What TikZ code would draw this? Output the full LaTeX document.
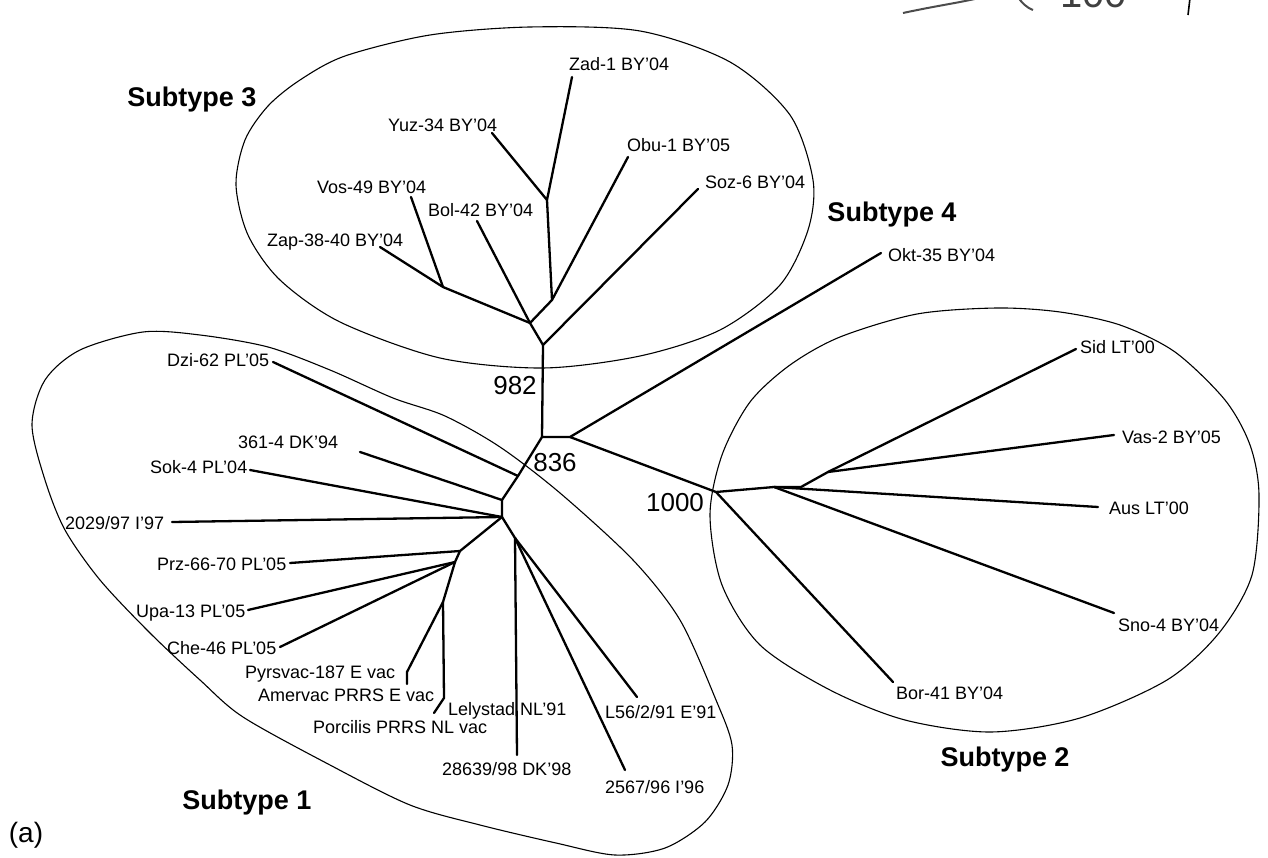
\documentclass[tikz,border=0pt]{standalone}
\usepackage{fontspec}
\setmainfont{Liberation Sans}
\begin{document}
\begin{tikzpicture}[x=1pt,y=-1pt,
  br/.style={line width=2.3pt, line cap=round, line join=round},
  hull/.style={line width=1.1pt},
  lbl/.style={anchor=west, inner sep=0pt, font=\fontsize{18}{20}\selectfont},
  subl/.style={inner sep=0pt, font=\fontsize{27}{30}\selectfont\bfseries},
  boot/.style={inner sep=0pt, font=\fontsize{26}{28}\selectfont},
  frag/.style={line width=2pt, black!70}]
\useasboundingbox (0,0) rectangle (1268,858);

% ---------- hulls ----------
\draw[hull] plot[smooth cycle] coordinates {(236,185) (245,140) (268,106) (300,80) (345,56) (430,35) (530,27) (640,31) (730,62) (790,115) (813,180) (808,230) (780,285) (720,330) (640,356) (543,368) (440,358) (340,322) (280,280) (248,235)};
\draw[hull] plot[smooth cycle] coordinates {(32,425) (45,380) (80,350) (143,332) (200,335) (268,347) (330,370) (393,398) (445,416) (500,447) (560,493) (633,560) (680,620) (716,700) (732,745) (728,785) (705,822) (665,848) (615,855) (556,843) (480,825) (410,805) (330,765) (243,717) (200,680) (150,633) (100,580) (65,530) (45,480)};
\draw[hull] plot[smooth cycle] coordinates {(710,515) (722,455) (750,402) (790,365) (840,337) (917,314) (997,308) (1060,312) (1120,325) (1175,352) (1225,400) (1250,445) (1259,495) (1252,575) (1219,633) (1167,680) (1080,718) (991,732) (905,720) (830,690) (760,645) (722,585)};

% ---------- coordinates ----------
\coordinate (J1) at (547,200);
\coordinate (Zad) at (572,77);
\coordinate (Yuz) at (492,133);
\coordinate (J2) at (552,300);
\coordinate (Obu) at (628,157);
\coordinate (J3) at (530,323);
\coordinate (Jzv) at (443,287);
\coordinate (Zap) at (380,247);
\coordinate (Vos) at (411,197);
\coordinate (Bol) at (477,221);
\coordinate (J4) at (543,345);
\coordinate (Soz) at (698,189);
\coordinate (Jr) at (542,437);
\coordinate (J5) at (570,437);
\coordinate (Okt) at (881,253);
\coordinate (N1000) at (716,492);
\coordinate (N2) at (774,487);
\coordinate (N3) at (801,487);
\coordinate (Jsv) at (828,472);
\coordinate (Sid) at (1076,349);
\coordinate (Vas) at (1114,435);
\coordinate (Aus) at (1098,507);
\coordinate (Sno) at (1114,613);
\coordinate (Bor) at (893,682);
\coordinate (Jd) at (518,476);
\coordinate (Dzi) at (273,362);
\coordinate (J361) at (502,500);
\coordinate (T361) at (360,452);
\coordinate (Jc) at (502,517);
\coordinate (Sok) at (250,470);
\coordinate (T2029) at (172,522);
\coordinate (Jprz) at (460,551);
\coordinate (Prz) at (290,563);
\coordinate (Jup) at (455,562);
\coordinate (Upa) at (248,610);
\coordinate (Che) at (280,647);
\coordinate (Jvac) at (443,602);
\coordinate (Jpyr) at (407,672);
\coordinate (Pyr) at (407,684);
\coordinate (Jlp) at (444,698);
\coordinate (Por) at (434,713);
\coordinate (J7) at (515,538);
\coordinate (T28639) at (517,755);
\coordinate (L56) at (637,697);
\coordinate (T2567) at (625,770);

% ---------- branches ----------
\draw[br] (Zad) -- (J1) -- (Yuz);
\draw[br] (J1) -- (J2) -- (Obu);
\draw[br] (J2) -- (J3) -- (Bol);
\draw[br] (J3) -- (Jzv) -- (Zap);
\draw[br] (Jzv) -- (Vos);
\draw[br] (J3) -- (J4) -- (Soz);
\draw[br] (J4) -- (Jr) -- (J5) -- (Okt);
\draw[br] (J5) -- (N1000) -- (Bor);
\draw[br] (N1000) -- (N2) -- (Sno);
\draw[br] (N2) -- (Aus);
\draw[br] (N2) -- (N3) -- (Jsv) -- (Sid);
\draw[br] (Jsv) -- (Vas);
\draw[br] (Jr) -- (Jd) -- (Dzi);
\draw[br] (Jd) -- (J361) -- (T361);
\draw[br] (J361) -- (Jc) -- (Sok);
\draw[br] (Jc) -- (T2029);
\draw[br] (Jc) -- (Jprz) -- (Prz);
\draw[br] (Jprz) -- (Jup) -- (Upa);
\draw[br] (Jup) -- (Che);
\draw[br] (Jup) -- (Jvac) -- (Jpyr) -- (Pyr);
\draw[br] (Jvac) -- (Jlp) -- (Por);
\draw[br] (Jc) -- (J7) -- (T28639);
\draw[br] (J7) -- (L56);
\draw[br] (J7) -- (T2567);

% ---------- leaf labels ----------
\node[lbl] (lZad) at (569,64) {Zad-1 BY'04};
\node[lbl] (lYuz) at (388,125) {Yuz-34 BY'04};
\node[lbl] (lObu) at (627,145) {Obu-1 BY'05};
\node[lbl] (lSoz) at (705,182) {Soz-6 BY'04};
\node[lbl] (lVos) at (317,187) {Vos-49 BY'04};
\node[lbl] (lBol) at (428,210) {Bol-42 BY'04};
\node[lbl] (lZap) at (267,242) {Zap-38-40 BY'04};
\node[lbl] (lOkt) at (888,255) {Okt-35 BY'04};
\node[lbl] (lDzi) at (167,360) {Dzi-62 PL'05};
\node[lbl] (l361) at (238,442) {361-4 DK'94};
\node[lbl] (lSok) at (150,467) {Sok-4 PL'04};
\node[lbl] (l2029) at (65,523) {2029/97 I'97};
\node[lbl] (lPrz) at (157,564) {Prz-66-70 PL'05};
\node[lbl] (lUpa) at (136,613) {Upa-13 PL'05};
\node[lbl] (lChe) at (167,648) {Che-46 PL'05};
\node[lbl] (lPyr) at (245,674) {Pyrsvac-187 E vac};
\node[lbl] (lAme) at (258,695) {Amervac PRRS E vac};
\node[lbl] (lLel) at (448,711) {Lelystad NL'91};
\node[lbl] (lPor) at (313,727) {Porcilis PRRS NL vac};
\node[lbl] (l28639) at (442,769) {28639/98 DK'98};
\node[lbl] (lL56) at (605,712) {L56/2/91 E'91};
\node[lbl] (l2567) at (605,787) {2567/96 I'96};
\node[lbl] (lSid) at (1080,347) {Sid LT'00};
\node[lbl] (lVas) at (1122,437) {Vas-2 BY'05};
\node[lbl] (lAus) at (1109,508) {Aus LT'00};
\node[lbl] (lSno) at (1118,625) {Sno-4 BY'04};
\node[lbl] (lBor) at (896,693) {Bor-41 BY'04};

% ---------- bootstrap values ----------
\node[boot] (b982) at (515,386) {982};
\node[boot] (b836) at (555,463) {836};
\node[boot] (b1000) at (675,503) {1000};

% ---------- subtype labels ----------
\node[subl] (s3) at (192,100) {Subtype 3};
\node[subl] (s4) at (892,215) {Subtype 4};
\node[subl] (s2) at (1005,760) {Subtype 2};
\node[subl] (s1) at (247,803) {Subtype 1};
\node[inner sep=0pt, font=\fontsize{28}{30}\selectfont] (pa) at (26,835) {(a)};

% ---------- fragment of neighbouring panel (top right) ----------
\draw[frag] (903,13) .. controls (940,5) and (965,2) .. (987,-4);
\draw[frag] (1017,-4) .. controls (1022,3) and (1027,8) .. (1033,10);
\node[anchor=base west, inner sep=0pt, text=black!75, font=\fontsize{40}{40}\selectfont] (frag100) at (1060,8) {100};
\draw[line width=1.6pt] (1190,-2) -- (1188,15);
\end{tikzpicture}
\end{document}
